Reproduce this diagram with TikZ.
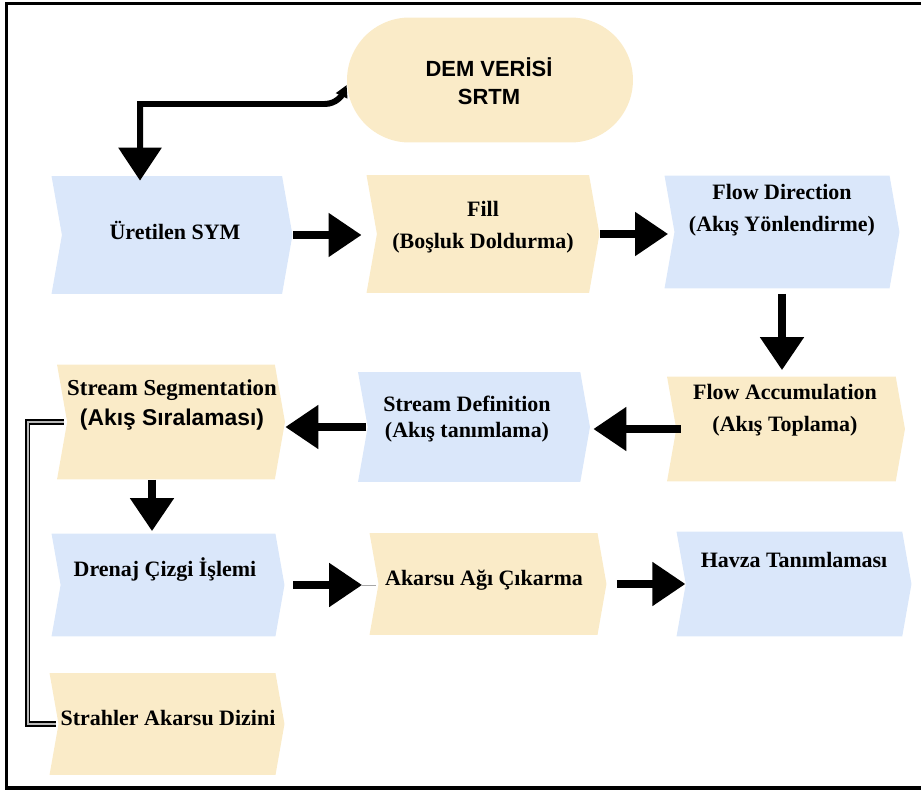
\documentclass[tikz,border=0pt]{standalone}
\usepackage{fontspec}
\setmainfont{Liberation Serif}
\setsansfont{Liberation Sans}
\usetikzlibrary{shapes.symbols,arrows.meta}
\definecolor{boxblue}{HTML}{DAE7FA}
\definecolor{boxyellow}{HTML}{FAEBC8}

\begin{document}
\begin{tikzpicture}[x=0.02cm,y=-0.02cm,
    box/.style={signal,signal from=west,signal to=east,signal pointer angle=160,inner sep=0pt,draw=none},
    bluebox/.style={box,fill=boxblue},
    yellowbox/.style={box,fill=boxyellow},
    lbl/.style={font=\bfseries\fontsize{12.5}{18.5}\selectfont,align=center,inner sep=0pt},
    bigarrow/.style={line width=0.16cm,-{Triangle[length=0.66cm,width=0.84cm]}},
    linkline/.style={line width=1pt,double=gray!55,double distance=0.9pt}]
    \useasboundingbox (0,0) rectangle (921,791);
    \draw[line width=0.07cm] (921,3.5) -| (6.5,788) -- (921,788);

    \node[fill=boxyellow,rounded corners=1.25cm,minimum width=5.72cm,minimum height=2.5cm,inner sep=0pt] (dem) at (490,80) {};
    \node[lbl,font=\sffamily\bfseries\fontsize{12.5}{16}\selectfont] (dem-t) at (489,81) {DEM VERİSİ\\SRTM};

    \node[bluebox,minimum width=4.82cm,minimum height=2.36cm] (sym) at (172,235) {};
    \node[lbl] (sym-t) at (175,230) {Üretilen SYM};
    \node[yellowbox,minimum width=4.66cm,minimum height=2.36cm] (fill) at (483,234) {};
    \node[lbl] (fill-t) at (483,227) {Fill\\(Boşluk Doldurma)};
    \node[bluebox,minimum width=4.7cm,minimum height=2.26cm] (flowdir) at (782,232) {};
    \node[lbl] (flowdir-t) at (782,210) {Flow Direction\\(Akış Yönlendirme)};

    \node[yellowbox,minimum width=4.76cm,minimum height=2.1cm] (flowacc) at (786,429) {};
    \node[lbl] (flowacc-t) at (785,410) {Flow Accumulation\\(Akış Toplama)};
    \node[bluebox,minimum width=4.64cm,minimum height=2.2cm] (streamdef) at (474,427) {};
    \node[lbl,font=\bfseries\fontsize{12.5}{15}\selectfont] (streamdef-t) at (467,419) {Stream Definition\\(Akış tanımlama)};
    \node[yellowbox,minimum width=4.56cm,minimum height=2.3cm] (streamseg) at (171,422) {};
    \node[lbl,font=\bfseries\fontsize{13}{17}\selectfont] (streamseg-t) at (172,405) {Stream Segmentation\\{\sffamily(Akış Sıralaması)}};

    \node[bluebox,minimum width=4.66cm,minimum height=2.06cm] (drenaj) at (168,585) {};
    \node[lbl] (drenaj-t) at (165,570) {Drenaj Çizgi İşlemi};
    \node[yellowbox,minimum width=4.74cm,minimum height=2.04cm] (akarsu) at (488,584) {};
    \node[lbl] (akarsu-t) at (484,580) {Akarsu Ağı Çıkarma};
    \node[bluebox,minimum width=4.7cm,minimum height=2.1cm] (havza) at (794,584) {};
    \node[lbl] (havza-t) at (794,560) {Havza Tanımlaması};

    \node[yellowbox,minimum width=4.7cm,minimum height=2.04cm] (strahler) at (167,724) {};
    \node[lbl] (strahler-t) at (168,718) {Strahler Akarsu Dizini};

    \draw[bigarrow,line width=0.12cm,{Triangle[length=0.24cm,width=0.24cm]}-{Triangle[length=0.66cm,width=0.84cm]},shorten >=-0.1cm]
        ([yshift=-0.1cm]dem.west) to[out=-115,in=0] ++(-22,19) -| ([xshift=-0.64cm]sym.north);
    \draw[bigarrow,shorten >=0.3cm] (sym.east) -- (sym.east -| fill.west);
    \draw[bigarrow,shorten >=0.12cm] (fill.east) -- (fill.east -| flowdir.west);
    \draw[bigarrow,shorten <=0.1cm,shorten >=0.12cm] (flowdir.south) -- (flowdir.south |- flowacc.north);
    \draw[bigarrow,shorten <=-0.1cm,shorten >=0.06cm] (flowacc.west) -- (flowacc.west -| streamdef.east);
    \draw[bigarrow,shorten <=0.02cm] (streamdef.west) -- (streamdef.west -| streamseg.east);
    \draw[bigarrow,shorten >=0.04cm] ([xshift=-0.38cm]streamseg.south) -- ([xshift=-0.38cm]streamseg.south |- drenaj.north);
    \draw[bigarrow,shorten <=0.17cm,shorten >=0.32cm] (drenaj.east) -- (drenaj.east -| akarsu.west);
    \draw[gray!70,line width=0.5pt] ([xshift=-0.32cm]drenaj.east -| akarsu.west) -- ([xshift=-0.04cm]drenaj.east -| akarsu.west);
    \draw[bigarrow,shorten <=0.2cm] (akarsu.east) -- (akarsu.east -| havza.west);
    \draw[linkline] ([xshift=-0.06cm]streamseg.west) -- ++(-36,0) |- ([xshift=-0.04cm]strahler.west);
\end{tikzpicture}
\end{document}
